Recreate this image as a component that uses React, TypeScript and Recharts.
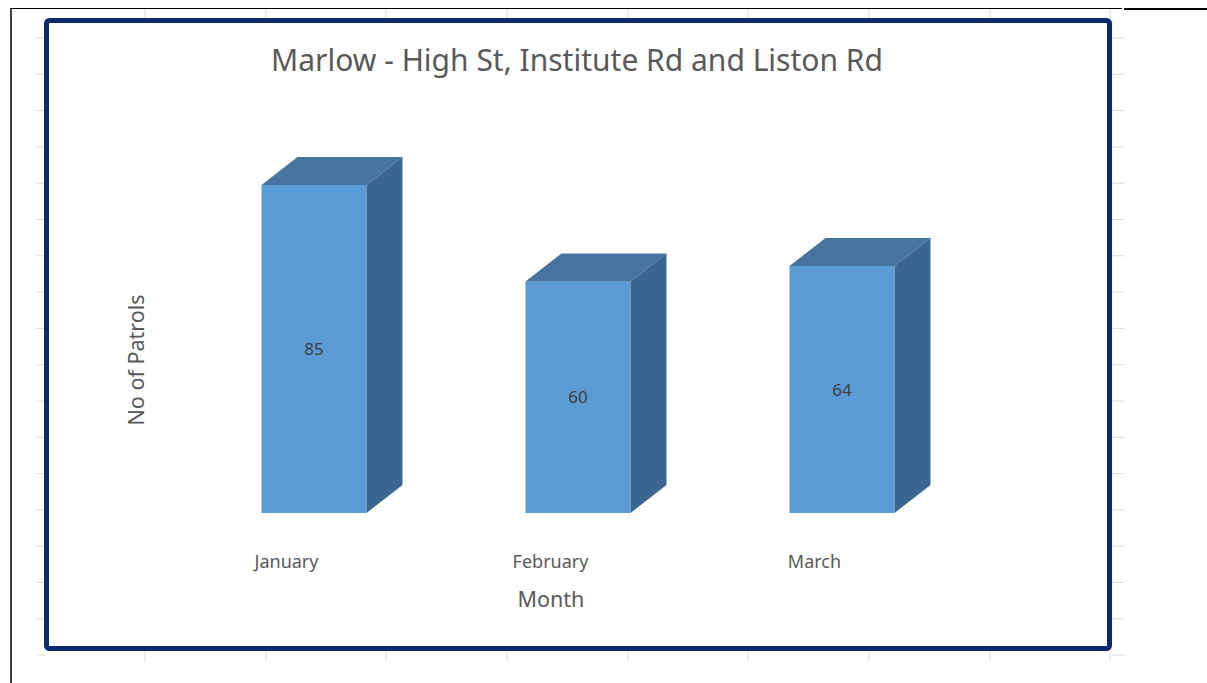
import { BarChart, Bar, XAxis, YAxis, LabelList } from "recharts";

const months = ["January", "February", "March"];
const patrols = [85, 60, 64];

const chartData = months.map((m, i) => ({ month: m, patrols: patrols[i] }));

const FONT = "'Noto Sans', 'Open Sans', sans-serif";
const DX = 36;
const DY = 28;

function Box3D(props: any) {
  const { x, y, width, height } = props;
  return (
    <g>
      <rect x={x} y={y} width={width} height={height} fill="#5b9bd5" />
      <polygon
        points={`${x},${y} ${x + width},${y} ${x + width + DX},${y - DY} ${x + DX},${y - DY}`}
        fill="#4574a0"
      />
      <polygon
        points={`${x + width},${y} ${x + width + DX},${y - DY} ${x + width + DX},${y + height - DY} ${x + width},${y + height}`}
        fill="#3b6690"
      />
    </g>
  );
}

function MonthTick(props: any) {
  const { x, y, payload } = props;
  return (
    <text x={x - 27} y={y + 47} textAnchor="middle" fontSize={18} fill="#595959" fontFamily={FONT}>
      {payload.value}
    </text>
  );
}

const gridX = [145, 266, 386, 507, 628, 748, 869, 990, 1110];
const gridY = Array.from({ length: 18 }, (_, k) => 38 + k * 36.3);

export default function App() {
  return (
    <div style={{ position: "absolute", left: 0, top: 0, width: 1207, height: 683, background: "#fff" }}>
      <svg width={1207} height={683} style={{ position: "absolute", left: 0, top: 0 }}>
        {gridX.map((gx) => (
          <g key={gx}>
            <line x1={gx} y1={8} x2={gx} y2={18} stroke="#d9d9d9" />
            <line x1={gx} y1={651} x2={gx} y2={661} stroke="#d9d9d9" />
          </g>
        ))}
        {gridY.map((gy) => (
          <g key={gy}>
            <line x1={37} y1={gy} x2={45} y2={gy} stroke="#d9d9d9" />
            <line x1={1112} y1={gy} x2={1124} y2={gy} stroke="#d9d9d9" />
          </g>
        ))}
        <line x1={10} y1={8.5} x2={1122} y2={8.5} stroke="#000" strokeWidth={1} />
        <line x1={1124} y1={9} x2={1207} y2={9} stroke="#000" strokeWidth={2} />
        <line x1={11} y1={8} x2={11} y2={683} stroke="#000" strokeWidth={1.5} />
        <rect x={46.5} y={20.5} width={1063} height={628} rx={3} fill="none" stroke="#0d2a6e" strokeWidth={5} />
        <text x={577} y={71} textAnchor="middle" fontSize={30} fill="#595959" fontFamily={FONT}>
          Marlow - High St, Institute Rd and Liston Rd
        </text>
        <text
          x={144}
          y={360}
          textAnchor="middle"
          fontSize={21.5}
          fill="#595959"
          fontFamily={FONT}
          transform="rotate(-90 144 360)"
        >
          No of Patrols
        </text>
        <text x={551} y={607} textAnchor="middle" fontSize={21.5} fill="#595959" fontFamily={FONT}>
          Month
        </text>
      </svg>
      <div style={{ position: "absolute", left: 0, top: 0 }}>
        <BarChart
          width={1207}
          height={683}
          data={chartData}
          margin={{ top: 127, right: 233.5, bottom: 110, left: 181.5 }}
          barSize={105}
        >
          <XAxis
            dataKey="month"
            axisLine={false}
            tickLine={false}
            height={60}
            tick={<MonthTick />}
            interval={0}
          />
          <YAxis hide domain={[0, 100]} />
          <Bar dataKey="patrols" shape={<Box3D />} isAnimationActive={false}>
            <LabelList dataKey="patrols" position="center" fill="#404040" fontSize={17} fontFamily={FONT} />
          </Bar>
        </BarChart>
      </div>
    </div>
  );
}
